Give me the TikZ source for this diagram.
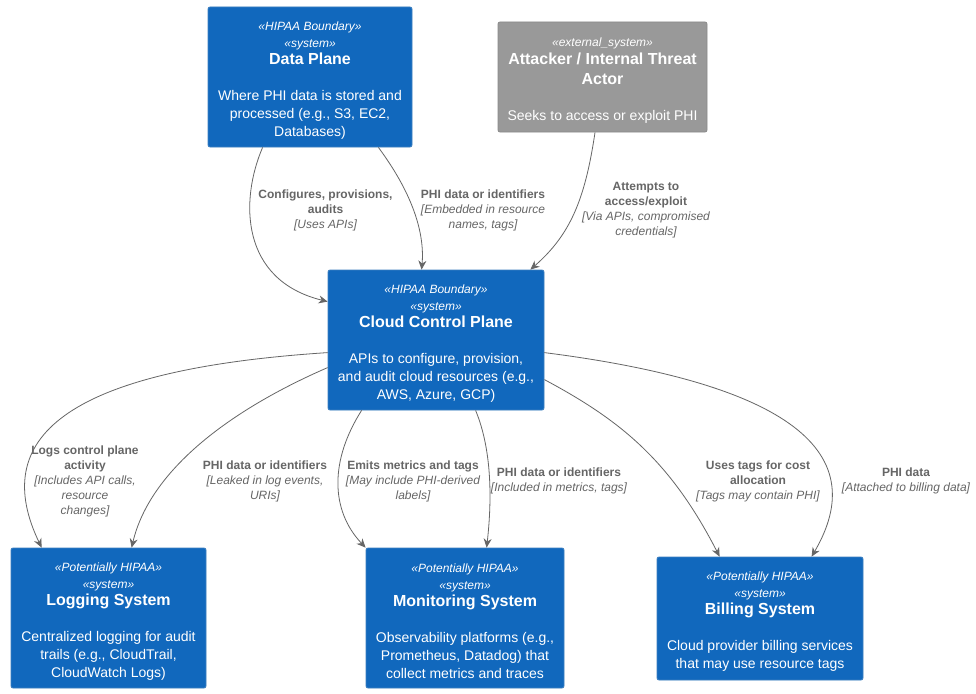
\documentclass[tikz,border=0pt]{standalone}
\usepackage{fontspec}
\setmainfont{Liberation Sans}
\usetikzlibrary{arrows.meta,calc}
\definecolor{sysblue}{HTML}{1168BD}
\definecolor{sysborder}{HTML}{3C7FC0}
\definecolor{extgray}{HTML}{999999}
\definecolor{extborder}{HTML}{8A8A8A}
\definecolor{relgray}{HTML}{666666}
\newcommand{\stt}[1]{{\fontsize{12}{17}\selectfont\itshape #1}}
\newcommand{\nm}[1]{{\fontsize{16}{18}\selectfont\bfseries #1}}
\newcommand{\bd}[1]{{\fontsize{14}{18}\selectfont #1}}
\newcommand{\rb}[1]{{\bfseries #1}}
\newcommand{\ri}[1]{{\itshape #1}}
\tikzset{
  sysbox/.style={draw=sysborder, fill=sysblue, rounded corners=2pt,
    inner sep=0pt, line width=0.8pt},
  extbox/.style={sysbox, draw=extborder, fill=extgray},
  boxtext/.style={text=white, align=center, inner sep=0pt, font=\fontsize{14}{18}\selectfont},
  rel/.style={draw=relgray, line width=0.8pt, -{Stealth[length=9pt,width=8pt]}},
  lbl/.style={text=relgray, align=center, inner sep=0pt, font=\fontsize{12}{15}\selectfont}
}
\begin{document}
\begin{tikzpicture}[x=1pt,y=-1pt]
\useasboundingbox (0,0) rectangle (976,693);
\fill[white] (0,0) rectangle (976,693);

% boxes
\node[sysbox, minimum width=204pt, minimum height=140pt] (dp) at (310,77) {};
\node[extbox, minimum width=209pt, minimum height=110pt] (atk) at (602.5,77) {};
\node[sysbox, minimum width=216pt, minimum height=140pt] (ccp) at (436,340) {};
\node[sysbox, minimum width=195pt, minimum height=140pt] (log) at (108.5,618) {};
\node[sysbox, minimum width=198pt, minimum height=140pt] (mon) at (465,618) {};
\node[sysbox, minimum width=206pt, minimum height=123pt] (bill) at (760,618.5) {};

% box texts
\node[boxtext] (dpt) at ($(dp.center)+(0,3.5)$)
  {\stt{«HIPAA Boundary»}\\[-1pt]\stt{«system»}\\[-1pt]\nm{Data Plane}\\[18pt]
   \bd{Where PHI data is stored and}\\\bd{processed (e.g., S3, EC2,}\\\bd{Databases)}};
\node[boxtext] (atkt) at ($(atk.center)+(0,3.5)$)
  {\stt{«external\_system»}\\\nm{Attacker / Internal Threat}\\[2pt]\nm{Actor}\\[18pt]
   \bd{Seeks to access or exploit PHI}};
\node[boxtext] (ccpt) at ($(ccp.center)+(0,3.5)$)
  {\stt{«HIPAA Boundary»}\\[-1pt]\stt{«system»}\\[-1pt]\nm{Cloud Control Plane}\\[18pt]
   \bd{APIs to configure, provision,}\\\bd{and audit cloud resources (e.g.,}\\\bd{AWS, Azure, GCP)}};
\node[boxtext] (logt) at ($(log.center)+(0,3.5)$)
  {\stt{«Potentially HIPAA»}\\[-1pt]\stt{«system»}\\[-1pt]\nm{Logging System}\\[18pt]
   \bd{Centralized logging for audit}\\\bd{trails (e.g., CloudTrail,}\\\bd{CloudWatch Logs)}};
\node[boxtext] (mont) at ($(mon.center)+(0,3.5)$)
  {\stt{«Potentially HIPAA»}\\[-1pt]\stt{«system»}\\[-1pt]\nm{Monitoring System}\\[18pt]
   \bd{Observability platforms (e.g.,}\\\bd{Prometheus, Datadog) that}\\\bd{collect metrics and traces}};
\node[boxtext] (billt) at ($(bill.center)+(0,3.5)$)
  {\stt{«Potentially HIPAA»}\\[-1pt]\stt{«system»}\\[-1pt]\nm{Billing System}\\[18pt]
   \bd{Cloud provider billing services}\\\bd{that may use resource tags}};

% edges
\draw[rel] ($(dp.south west)+(55,0)$) .. controls (240,200) and (240,280) .. ($(ccp.north west)+(0,32)$);
\draw[rel] ($(dp.south east)+(-34,0)$) .. controls (410,190) and (425,230) .. ($(ccp.north west)+(94,0)$);
\draw[rel] ($(atk.south)+(-7.5,0)$) .. controls (585,200) and (570,235) .. ($(ccp.north east)+(-14,0)$);
\draw[rel] ($(ccp.north west)+(0,83)$) .. controls (60,370) and (-10,440) .. ($(log.north west)+(31,0)$);
\draw[rel] ($(ccp.north west)+(0,98)$) .. controls (230,410) and (150,470) .. ($(log.north west)+(121,0)$);
\draw[rel] ($(ccp.south west)+(34,0)$) .. controls (330,460) and (330,510) .. (mon.north west);
\draw[rel] ($(ccp.south west)+(148,0)$) .. controls (492,450) and (492,500) .. ($(mon.north west)+(121,0)$);
\draw[rel] ($(ccp.north east)+(0,110)$) .. controls (620,420) and (670,460) .. ($(bill.north west)+(63,0)$);
\draw[rel] ($(ccp.north east)+(0,83)$) .. controls (760,380) and (880,440) .. ($(bill.north west)+(155,0)$);

% labels
\node[lbl] (l1) at (325.5,210) {\rb{Configures, provisions,}\\\rb{audits}\\\ri{[Uses APIs]}};
\node[lbl] (l2) at (483,210) {\rb{PHI data or identifiers}\\\ri{[Embedded in resource}\\\ri{names, tags]}};
\node[lbl] (l3) at (646,210) {\rb{Attempts to}\\\rb{access/exploit}\\\ri{[Via APIs, compromised}\\\ri{credentials]}};
\node[lbl] (l4) at (85,481) {\rb{Logs control plane}\\\rb{activity}\\\ri{[Includes API calls,}\\\ri{resource}\\\ri{changes]}};
\node[lbl] (l5) at (265,481) {\rb{PHI data or identifiers}\\\ri{[Leaked in log events,}\\\ri{URIs]}};
\node[lbl] (l6) at (413,481) {\rb{Emits metrics and tags}\\\ri{[May include PHI-derived}\\\ri{labels]}};
\node[lbl] (l7) at (559,480.5) {\rb{PHI data or identifiers}\\\ri{[Included in metrics, tags]}};
\node[lbl] (l8) at (758,481) {\rb{Uses tags for cost}\\\rb{allocation}\\\ri{[Tags may contain PHI]}};
\node[lbl] (l9) at (906,480.5) {\rb{PHI data}\\\ri{[Attached to billing data]}};
\end{tikzpicture}
\end{document}
